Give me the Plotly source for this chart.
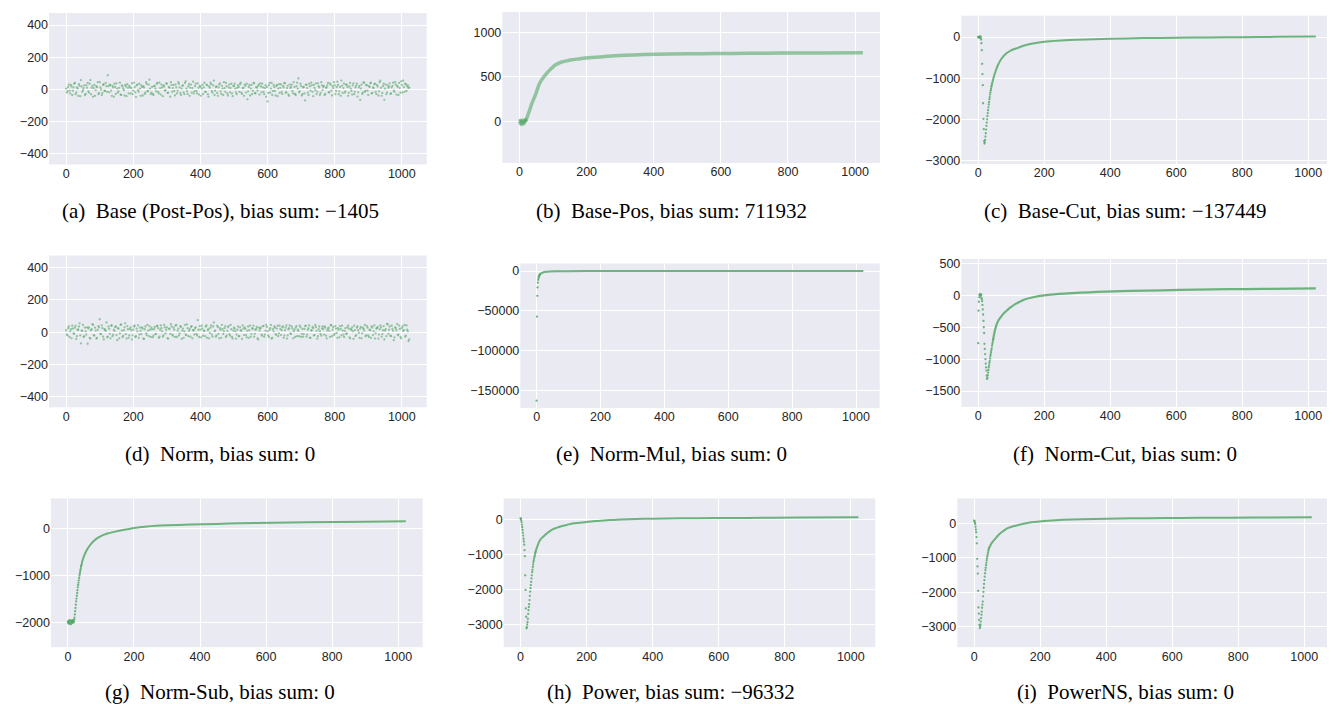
import plotly.graph_objects as go

W, H = 1335, 704

# ---------------- data ----------------
noise_idx = list(range(0, 1024, 4))
noise_idx2 = list(range(2, 1024, 4))

a_noise = [
    5, -12, 30, -25, 18, -8, 35, -30, 12, -40, 22, 58, -15, 8, -35, 25,
    40, -20, 58, 10, -45, 28, -5, 15, -30, 45, 0, -22, 32, -10, 20, 88,
    -18, 25, -40, 12, 35, -28, 5, -12, 42, -35, 18, -5, 28, -42, 10, 22,
    -25, 38, -8, 15, -48, 30, -15, 5, 25, -38, 12, -20, 34, -10, 60, -30,
    15, -35, 22, -12, 40, -25, 8, 30, -42, 18, -5, 35, -20, 10, 45, -15,
    28, -38, 12, -8, 35, -22, 5, 25, -30, 50, -12, 18, -40, 30, 8, -25,
    20, -10, 38, -32, 15, 5, -28, 42, -15, 25, -45, 10, 32, -20, 55, -8,
    18, -40, 30, -12, 22, -35, 8, 40, -25, 12, -18, 35, -42, 20, 5, -30,
    25, -15, 42, -28, 10, 30, -20, -62, 15, -38, 28, -8, 38, -25, 12, 22,
    -32, 18, 35, -15, 8, -45, -75, 25, -20, 40, -10, 15, -38, 28, 5, -22,
    32, -28, 12, 38, -18, 22, -40, 8, 30, -25, 15, -35, 42, 68, -12, 20,
    -30, 15, -68, 28, -20, 35, -8, 25, -42, 10, 38, -15, 20, -35, 45, -5,
    22, -28, 12, 40, -18, 30, -38, 8, 25, -10, 48, -30, 15, 55, -22, 35,
    -12, 28, -40, 18, 5, -32, 38, -15, 22, -45, 12, -65, 30, -20, 40, -8,
    25, -35, 15, 42, -22, 8, 35, -28, 18, -12, 55, -40, 20, -65, 30, -18,
    10, 38, -25, 22, -8, 45, -32, 15, 40, -20, 28, 55, -15, 32, 18, 8,
]
a_noise2 = [
    -20, 15, -8, 28, -35, 12, 40, -18, 5, 32, -42, 18, -5, 25, -28, 10,
    -12, 35, -30, 22, 8, -40, 18, 45, -22, 12, -35, 28, -8, 40, -15, 20,
    30, -8, 22, -45, 15, 38, -20, 10, -32, 25, 5, -38, 18, 32, -25, 12,
    8, -30, 42, -18, 25, -5, 35, -40, 15, 20, -28, 45, -12, 30, 5, -20,
    -28, 20, 5, 35, -15, 42, -32, 12, 25, -8, 38, -22, 15, -45, 28, 8,
    -10, 30, -25, 45, 12, -35, 22, -18, 40, 5, -28, 32, 10, -20, 48, -12,
    35, -25, 10, 22, -40, 28, 12, -15, 30, -30, 18, 42, -10, 25, -35, 15,
    -22, 12, 38, -28, 5, 45, -15, 20, -38, 30, 8, -25, 22, 35, -18, 10,
    15, 32, -20, 8, -40, 22, 35, -12, 28, 5, -30, 40, -22, 12, -8, 30,
    38, -18, 12, -30, 25, 15, -22, 40, 5, -35, 28, -10, 20, -42, 32, 10,
    -15, 22, 40, -20, 8, -32, 30, 15, -10, 45, -28, 20, 5, -18, 35, -38,
    12, -25, 30, 8, -35, 20, 42, -15, 28, -5, -30, 38, 12, -22, 25, 15,
    -35, 10, 25, -18, 38, -8, 20, 45, -30, 15, 28, -12, -40, 22, 8, -20,
    30, 15, -22, 40, -10, 25, -30, 12, 35, -18, 22, 5, -28, 45, -15, 28,
    -8, 20, 38, -25, 12, 32, -15, 28, -38, 45, 10, -22, 35, 5, -30, 25,
    18, -28, 12, 42, -15, 30, 22, -35, 8, 50, -20, 15, 35, -10, 25, 12,
]

d_noise = [
    12, -20, 35, 5, -38, 22, -10, 40, -25, 15, 55, -70, 8, -30, 28, -15,
    -72, 30, -40, 18, 45, -22, 10, -35, 38, 80, -12, 25, -45, 15, 60, -28,
    20, -38, 42, -15, 8, 35, -50, 22, -8, 48, -30, 12, 55, -40, 18, -20,
    30, -45, 15, 40, -25, 5, -35, 28, -12, 22, -42, 35, -18, 10, 38, -30,
    18, -22, 32, -10, 40, -35, 15, 25, -28, 45, -8, 30, -40, 20, 50, -15,
    28, -30, 45, 10, -20, 38, -42, 22, 5, -15, 48, -25, 18, 32, -38, 12,
    25, -10, 75, -30, 15, 40, -22, 8, 35, -35, 20, -5, 42, -28, 60, 10,
    -20, 32, -38, 15, 45, -12, 25, -30, 8, 38, -22, 18, -40, 28, 5, -15,
    35, -25, 12, -42, 22, 30, -18, 8, -35, 40, -10, 20, -28, 15, 32, -45,
    10, 28, -22, 38, -15, 45, 5, -30, 25, -40, 18, 35, -12, 22, -25, 40,
    -18, 30, -35, 12, 42, -20, 25, -8, 35, -38, 15, 28, -25, 8, 40, -30,
    20, -12, 38, -28, 15, 42, -35, 10, 25, -18, 32, -40, 18, 5, -22, 35,
    -15, 28, -38, 20, 8, 45, -25, 32, -10, 22, -35, 15, 38, -20, 10, -30,
    25, -8, 40, -32, 18, 30, -42, 12, -18, 35, -5, 22, -38, 28, 10, -25,
    38, -20, 15, -35, 28, 5, -40, 22, 32, -15, 42, -28, 12, -45, 18, 52,
    -10, 35, -25, 20, -50, 30, 12, -18, 40, -30, 25, 8, 45, -22, 15, -55,
]
d_noise2 = [
    -15, 25, -30, 18, 40, -8, 28, -42, 15, 35, -20, 10, 45, -25, 5, 30,
    22, -35, 12, 50, -18, 28, -40, 15, 30, -10, 42, -28, 18, 8, -32, 35,
    -10, 40, -25, 15, 32, -18, 25, -38, 45, 10, -22, 30, -12, 38, -35, 20,
    12, -20, 35, -30, 22, 42, -15, 8, 30, -40, 18, -8, 45, -25, 15, 28,
    -32, 18, -12, 38, 25, -28, 42, 5, -20, 30, 15, -38, 22, -10, 35, -22,
    15, 40, -30, 22, -8, 32, 10, -35, 45, -18, 25, 8, -28, 38, 12, -15,
    30, -20, 15, 38, -32, 22, 8, -25, 42, 12, -38, 28, -15, 35, 5, -28,
    40, -10, 25, -35, 18, 5, 38, -22, 30, -12, 45, -30, 10, 22, -40, 15,
    -25, 30, 8, 42, -18, 20, -32, 35, 12, -28, 25, 40, -10, 18, -38, 28,
    22, -15, 38, -28, 10, 32, -20, 15, 45, -35, 5, 28, -18, 40, -8, 20,
    12, 35, -22, 28, -40, 18, 42, -12, 22, 5, -30, 38, 15, -25, 30, -10,
    -28, 20, 40, -15, 25, -35, 12, 32, -20, 45, 8, -25, 35, -12, 22, 18,
    35, -22, 10, 28, -30, 42, 15, -18, 38, -5, 25, -32, 20, 40, -15, 8,
    -12, 30, 22, -38, 15, 5, 40, -25, 28, 12, -35, 32, -8, 20, 45, -20,
    28, -30, 12, 35, -18, 42, -8, 25, -40, 18, 30, -12, 38, 10, -25, 48,
    15, -22, 40, 8, -32, 25, 50, -15, 20, -38, 35, 12, -28, 42, 5, -45,
]

b_early_y = [-10, 15, -30, 5, -20, 10, -40, 0, -15, 20, -25, -5, -35, 10, -10,
             5, -20, 15, 0, 25, 10]
b_tail_x = [18, 25, 31, 37, 43, 49, 57, 65, 75, 86, 100, 106, 116, 126, 140,
            156, 176, 196, 240, 285, 340, 405, 500, 583, 680, 782, 900, 1023]
b_tail_y = [0, 70, 135, 200, 255, 310, 400, 460, 510, 560, 610, 630, 650, 665,
            678, 690, 700, 710, 722, 735, 745, 752, 757, 760, 762, 765, 767, 770]

c_early_y = [0, -5, 10, -10, 5, -8, 0, 15, -20, -60, -150, -320, -650, -900,
             -1170, -1610, -1990, -2240, -2530, -2590, -2560, -2500, -2420,
             -2340, -2250, -2160, -2080, -2000, -1920, -1850, -1780, -1710,
             -1640, -1580, -1510, -1460, -1400, -1350, -1300, -1260, -1210]
c_tail_x = [40, 45, 50, 55, 60, 65, 70, 75, 80, 90, 100, 110, 120, 140, 170,
            200, 250, 300, 400, 500, 600, 700, 800, 900, 1023]
c_tail_y = [-1210, -1040, -900, -780, -680, -600, -535, -480, -435, -370, -322,
            -290, -262, -205, -150, -115, -85, -65, -40, -25, -15, -8, -2, 5, 15]

e_early_y = [-162500, -57000, -31000, -20500, -14500, -11000, -8800, -7200,
             -6000, -5100, -4400]
e_tail_x = [10, 12, 15, 20, 30, 40, 60, 100, 200, 400, 700, 1023]
e_tail_y = [-4400, -3400, -2500, -1700, -900, -550, -280, -100, -20, 0, 20, 50]

f_early_y = [-750, -240, -100, -30, 10, 5, 20, -10, 0, 15, -40, -60, -90, -150,
             -220, -300, -400, -500, -590, -760, -840, -920, -1000, -1070,
             -1130, -1180, -1260, -1310, -1290, -1250, -1210, -1170, -1130,
             -1100, -1060, -1030, -990, -950, -920, -890, -860, -830, -790,
             -760, -730, -700]
f_tail_x = [45, 50, 55, 60, 70, 80, 90, 100, 110, 120, 140, 170, 200, 230, 260,
            310, 360, 460, 560, 660, 760, 860, 1023]
f_tail_y = [-700, -565, -470, -405, -330, -270, -222, -182, -145, -115, -65,
            -25, 0, 16, 28, 42, 54, 70, 80, 90, 97, 102, 110]

g_early_y = [-1990, -2010, -1960, -2030, -1980, -2000, -1950, -2020, -1990,
             -2040, -1970, -2000, -1960, -2010, -1980, -1950, -2000, -1970,
             -1990, -1940, -1900, -1830, -1760, -1690, -1620, -1550, -1490,
             -1430, -1370, -1310, -1250, -1200, -1150, -1100, -1050, -1000,
             -960, -920, -880, -840, -800]
g_tail_x = [40, 45, 50, 55, 60, 70, 80, 90, 100, 110, 120, 140, 170, 200, 240,
            300, 370, 450, 520, 620, 720, 900, 1023]
g_tail_y = [-800, -660, -560, -485, -420, -320, -250, -195, -155, -125, -100,
            -65, -20, 20, 50, 75, 92, 105, 118, 130, 140, 152, 162]

h_early_y = [50, 20, -20, -70, -140, -210, -290, -370, -450, -540, -620, -710,
             -870, -1040, -1590, -2010, -2540, -2780, -3110, -3080, -3000,
             -2930, -2840, -2700, -2590, -2500, -2420, -2300, -2180, -2060,
             -1960, -1870, -1780, -1680, -1590, -1500, -1430, -1350, -1280,
             -1210, -1160, -1110, -1060, -1020, -970, -930]
h_tail_x = [45, 48, 53, 58, 65, 73, 83, 93, 103, 114, 126, 139, 151, 164, 179,
            194, 214, 234, 270, 305, 350, 400, 485, 586, 686, 850, 1023]
h_tail_y = [-930, -830, -700, -590, -510, -440, -360, -290, -245, -210, -175,
            -145, -120, -98, -80, -66, -45, -30, -5, 15, 27, 35, 45, 52, 57,
            70, 80]

i_early_y = [80, 60, 20, -20, -100, -180, -260, -400, -580, -1030, -1250,
             -1460, -1960, -2440, -2620, -2800, -2950, -3040, -3000, -2940,
             -2850, -2750, -2650, -2560, -2450, -2360, -2270, -2120, -1990,
             -1870, -1760, -1650, -1550, -1450, -1360, -1290, -1210, -1140,
             -1070, -1010, -950, -900, -850, -800, -760, -720]
i_tail_x = [45, 52, 60, 68, 75, 83, 93, 103, 118, 133, 153, 173, 198, 224, 270,
            325, 400, 476, 577, 677, 850, 1023]
i_tail_y = [-720, -590, -490, -400, -325, -260, -190, -135, -85, -50, -8, 28,
            55, 75, 100, 120, 134, 145, 153, 160, 168, 175]

captions = [
    "(a)\u2002Base (Post-Pos), bias sum: \u22121405",
    "(b)\u2002Base-Pos, bias sum: 711932",
    "(c)\u2002Base-Cut, bias sum: \u2212137449",
    "(d)\u2002Norm, bias sum: 0",
    "(e)\u2002Norm-Mul, bias sum: 0",
    "(f)\u2002Norm-Cut, bias sum: 0",
    "(g)\u2002Norm-Sub, bias sum: 0",
    "(h)\u2002Power, bias sum: \u221296332",
    "(i)\u2002PowerNS, bias sum: 0",
]

x_ticks = [0, 200, 400, 600, 800, 1000]

# ---------------- layout geometry (pixels) ----------------
boxes = [  # left, right, top, bottom
    (41, 418.7, 3, 155.7),
    (494.3, 872, 2, 154.3),
    (953.3, 1324.7, 5.7, 155.3),
    (41, 418.7, 247.7, 400.7),
    (512.3, 871.7, 255.7, 401.3),
    (953.3, 1324.7, 251, 400.3),
    (43, 414.7, 492.7, 642.7),
    (495.7, 867.3, 492.7, 642.7),
    (949.3, 1320.7, 492.7, 642.7),
]
y_ranges = [
    (-466, 475), (-467, 1226), (-3087, 521),
    (-466, 475), (-171500, 9450), (-1749, 573),
    (-2530, 648), (-3655, 615), (-3595, 719),
]
y_ticks = [
    [-400, -200, 0, 200, 400], [0, 500, 1000], [-3000, -2000, -1000, 0],
    [-400, -200, 0, 200, 400], [-150000, -100000, -50000, 0],
    [-1500, -1000, -500, 0, 500],
    [-2000, -1000, 0], [-3000, -2000, -1000, 0], [-3000, -2000, -1000, 0],
]
caption_xy = [
    (212, 203), (663, 203), (1117, 203),
    (212, 448), (663, 448), (1117, 448),
    (212, 688), (663, 688), (1117, 688),
]

DOT = "rgba(85,168,104,0.6)"
DOT_DARK = "rgba(85,168,104,0.85)"
LINE = "rgba(85,168,104,0.85)"

fig = go.Figure()


def ax_name(i, kind):
    return kind if i == 0 else f"{kind}{i + 1}"


def ref(i, kind):
    return kind[0] if i == 0 else f"{kind[0]}{i + 1}"


def add_markers(i, xs, ys, color, size):
    fig.add_trace(go.Scatter(x=xs, y=ys, mode="markers",
                             marker=dict(size=size, color=color, line=dict(width=0)),
                             xaxis=ref(i, "x"), yaxis=ref(i, "y"),
                             showlegend=False, hoverinfo="skip"))


def add_line(i, xs, ys, color, width):
    fig.add_trace(go.Scatter(x=xs, y=ys, mode="lines",
                             line=dict(color=color, width=width, shape="spline",
                                       smoothing=0.6),
                             xaxis=ref(i, "x"), yaxis=ref(i, "y"),
                             showlegend=False, hoverinfo="skip"))


# (a)
add_markers(0, noise_idx, a_noise, DOT, 2.3)
add_markers(0, noise_idx2, a_noise2, DOT, 2.3)
# (b)
add_line(1, b_tail_x, b_tail_y, "rgba(85,168,104,0.6)", 3.5)
add_markers(1, list(range(len(b_early_y))), b_early_y, DOT, 2.6)
# (c)
add_line(2, c_tail_x, c_tail_y, LINE, 2)
add_markers(2, list(range(len(c_early_y))), c_early_y, DOT_DARK, 2.3)
# (d)
add_markers(3, noise_idx, d_noise, DOT, 2.3)
add_markers(3, noise_idx2, d_noise2, DOT, 2.3)
# (e)
add_line(4, e_tail_x, e_tail_y, LINE, 2)
add_markers(4, list(range(len(e_early_y))), e_early_y, DOT_DARK, 2.3)
# (f)
add_line(5, f_tail_x, f_tail_y, LINE, 2.2)
add_markers(5, list(range(len(f_early_y))), f_early_y, DOT_DARK, 2.3)
# (g)
add_line(6, g_tail_x, g_tail_y, LINE, 2)
add_markers(6, list(range(len(g_early_y))), g_early_y, DOT_DARK, 2.3)
# (h)
add_line(7, h_tail_x, h_tail_y, LINE, 2)
add_markers(7, list(range(len(h_early_y))), h_early_y, DOT_DARK, 2.3)
# (i)
add_line(8, i_tail_x, i_tail_y, LINE, 2)
add_markers(8, list(range(len(i_early_y))), i_early_y, DOT_DARK, 2.3)

layout = dict(
    width=W, height=H,
    margin=dict(l=0, r=0, t=0, b=0),
    paper_bgcolor="white",
    plot_bgcolor="#EAEAF2",
    showlegend=False,
    font=dict(family="Liberation Sans, Arial, sans-serif", size=12.5, color="#262626"),
)

tick_font = dict(family="Liberation Sans, Arial, sans-serif", size=12.5, color="#262626")

for i, (l, r, t, b) in enumerate(boxes):
    xa = ax_name(i, "xaxis")
    ya = ax_name(i, "yaxis")
    layout[xa] = dict(
        domain=[l / W, r / W], range=[-51.15, 1074.15],
        tickmode="array", tickvals=x_ticks, tickformat="d",
        showgrid=True, gridcolor="white", gridwidth=1.2,
        zeroline=False, showline=False, ticks="",
        tickfont=tick_font, anchor=ref(i, "y"), fixedrange=True,
    )
    layout[ya] = dict(
        domain=[1 - b / H, 1 - t / H], range=list(y_ranges[i]),
        tickmode="array", tickvals=y_ticks[i], tickformat="d",
        showgrid=True, gridcolor="white", gridwidth=1.2,
        zeroline=False, showline=False, ticks="",
        tickfont=tick_font, anchor=ref(i, "x"), fixedrange=True,
    )

fig.update_layout(**layout)

for (cx, cy), text in zip(caption_xy, captions):
    fig.add_annotation(
        x=cx / W, y=1 - cy / H, xref="paper", yref="paper",
        text=text, showarrow=False, xanchor="center", yanchor="middle",
        font=dict(family="Liberation Serif, Times New Roman, serif", size=21, color="black"),
    )

fig.write_html("out.html")
